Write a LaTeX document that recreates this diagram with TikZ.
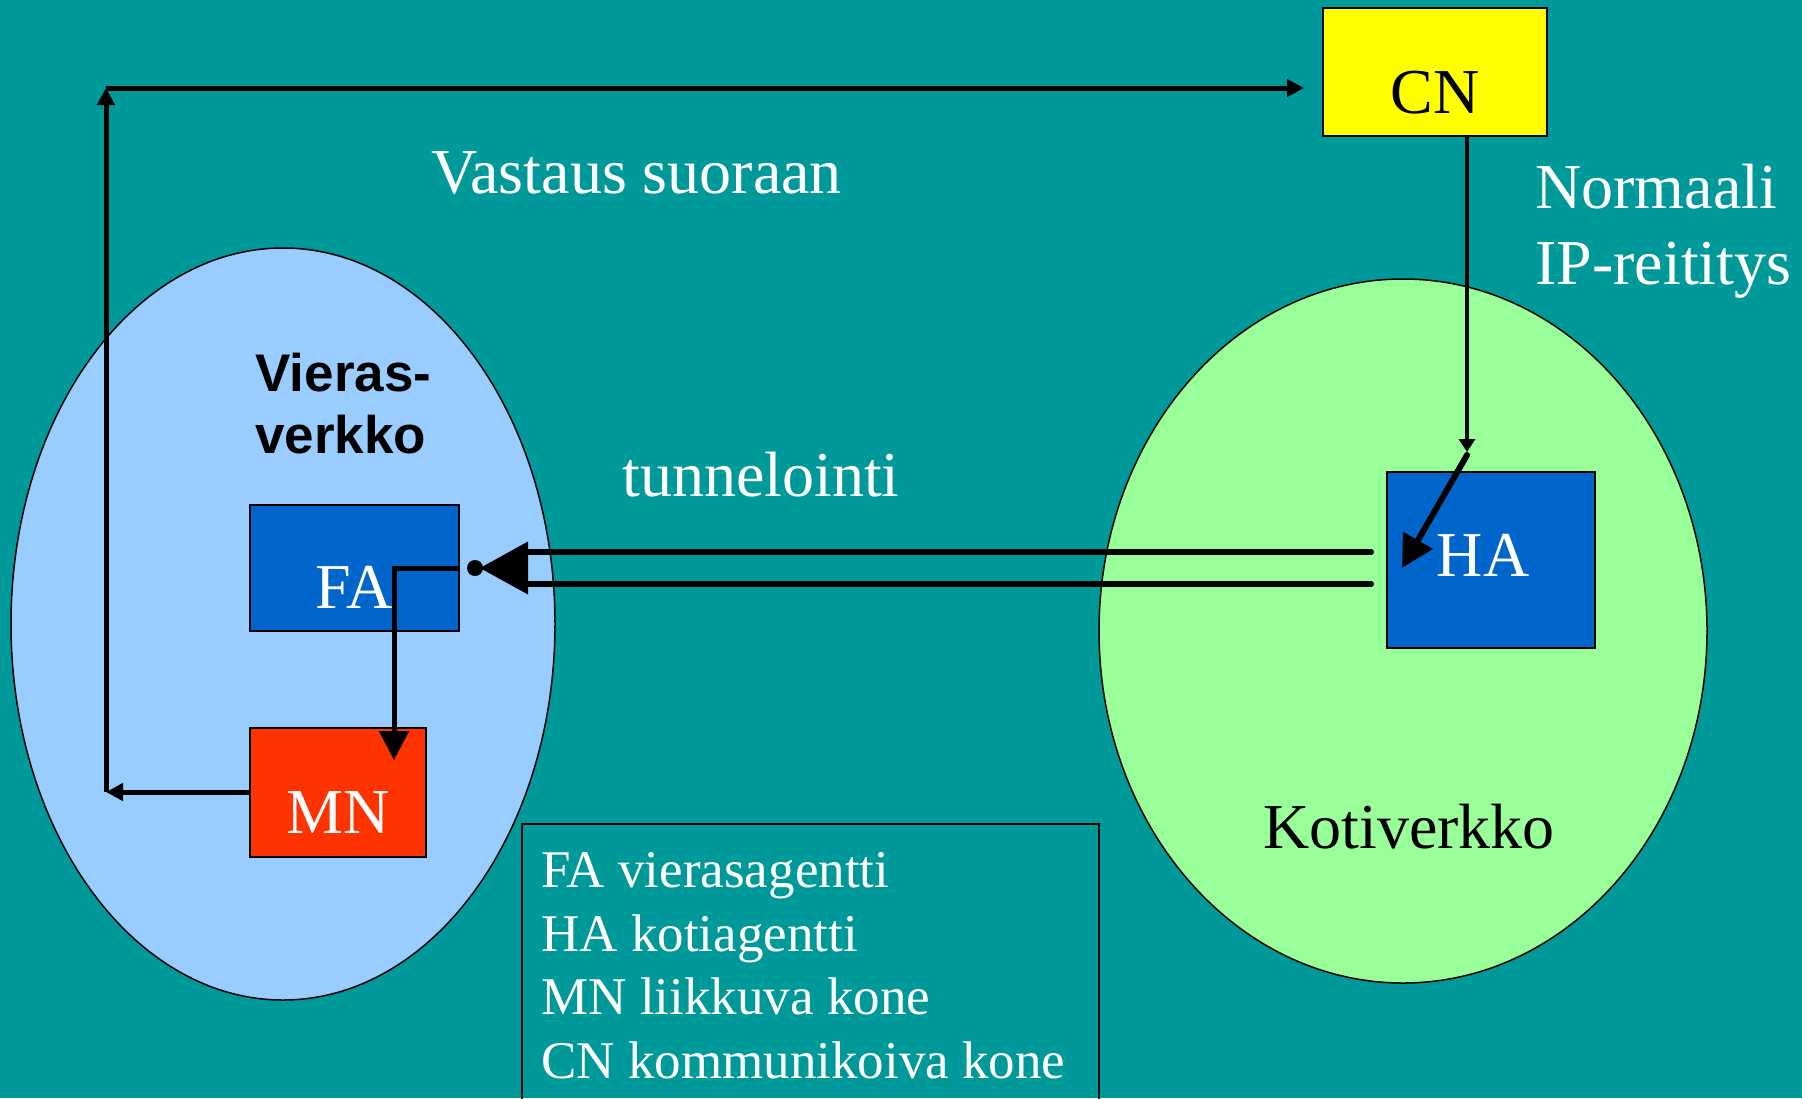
\documentclass[tikz,border=0pt]{standalone}
\usepackage{fontspec}
\setmainfont{Liberation Serif}
\newfontfamily\arialfont{Liberation Sans}
\usetikzlibrary{arrows.meta,shapes.geometric,calc}
\definecolor{bgteal}{RGB}{0,153,153}
\definecolor{foreignblue}{RGB}{153,204,255}
\definecolor{homegreen}{RGB}{153,255,153}
\definecolor{agentblue}{RGB}{0,102,204}
\definecolor{mnred}{RGB}{255,51,0}
\definecolor{cnyellow}{RGB}{255,255,0}
\newcommand\labfont{\fontsize{32pt}{38pt}\selectfont}
\newcommand\legfont{\fontsize{26.5pt}{32pt}\selectfont}
\newcommand\vierfont{\arialfont\bfseries\fontsize{26.5pt}{31pt}\selectfont}
\begin{document}
\begin{tikzpicture}[x=0.5pt,y=-0.5pt,
  net/.style={ellipse, draw=black, line width=0.75pt, inner sep=0},
  box/.style={rectangle, draw=black, line width=1pt, inner sep=0, font=\labfont, text depth=0pt},
  txt/.style={anchor=base west, inner sep=0, text=white, font=\labfont},
  leg/.style={anchor=base west, inner sep=0, text=white, font=\legfont},
  retarrow/.style={line width=2.5pt, -{Triangle[length=8.5pt,width=8.5pt]}},
  tunline/.style={line width=3pt, line cap=round},
]
\useasboundingbox (0,0) rectangle (1802,1098);
\fill[bgteal] (0,0) rectangle (1802,1098);

% networks
\node[net, fill=foreignblue, minimum width=272pt, minimum height=376pt] (vierasnet) at (283,624) {};
\node[net, fill=homegreen, minimum width=304pt, minimum height=352pt] (kotinet) at (1403,631) {};

% texts
\node[txt] (vastaus) at (431,193) {Vastaus suoraan};
\node[txt] (normaali) at (1535,208) {Normaali};
\node[txt] (ipreit) at (1535,284) {IP-reititys};
\node[txt] (tunnel) at (622,496) {tunnelointi};
\node[txt, text=black] (koti) at (1263,848) {Kotiverkko};
\node[anchor=base west, inner sep=0, font=\vierfont] (vieras1) at (255,391) {Vieras-};
\node[anchor=base west, inner sep=0, font=\vierfont] (vieras2) at (255,453) {verkko};

% boxes
\node[box, fill=cnyellow, text=black, minimum width=112pt, minimum height=64pt, text height=41pt] (cn) at (1435,72) {CN};
\node[box, fill=agentblue, text=white, minimum width=104.5pt, minimum height=63pt, text height=40pt] (fa) at (354.5,568) {FA};
\node[box, fill=agentblue, text=white, minimum width=104pt, minimum height=88pt, text height=16pt] (ha) at (1491,560) {HA\kern8pt};
\node[box, fill=mnred, text=white, minimum width=88pt, minimum height=64.5pt, text height=41pt] (mn) at (338,792) {MN};

% legend
\draw[line width=1pt] (522,1110) |- (1099,824) -- (1099,1110);
\node[leg] (legfa) at (541,887) {FA vierasagentti};
\node[leg] (legha) at (541,951) {HA kotiagentti};
\node[leg] (legmn) at (541,1014) {MN liikkuva kone};
\node[leg] (legcn) at (541,1078) {CN kommunikoiva kone};

% reply path MN -> CN
\coordinate (mnleft) at (106,792);
\coordinate (corner) at (106,88);
\draw[retarrow] (mn.west) -- (mnleft);
\draw[retarrow] (mnleft) -- (corner);
\draw[retarrow, shorten >=9pt] (corner) -- (corner -| cn.west);

% CN -> HA
\coordinate (bend) at (1467,455);
\coordinate (hatip) at (1402,568);
\draw[line width=2pt, shorten >=1.5pt, -{Triangle[length=6.5pt,width=8pt]}] (bend |- cn.south) -- (bend);
\draw[line width=3pt, line cap=round, -{Triangle[length=16pt,width=16.5pt]}] (bend) -- (hatip);

% tunnel HA -> FA
\coordinate (tunR) at ($(ha.west |- fa.east)+(-15,0)$);
\coordinate (tunL) at ($(fa.east)+(68,0)$);
\draw[tunline] ($(tunR)+(0,-16)$) -- ($(tunL)+(0,-16)$);
\draw[tunline] ($(tunR)+(0,16)$) -- ($(tunL)+(0,16)$);
\fill ($(tunL)+(0,-26.5)$) -- ($(tunL)+(0,26.5)$) -- ($(tunL)+(-48,0)$) -- cycle;
\fill ($(tunL)+(-53,0)$) circle[radius=4pt];

% FA -> MN
\coordinate (mnin) at (394,760);
\draw[line width=2.5pt, -{Triangle[length=14.5pt,width=14.5pt]}] (fa.east) -| (mnin);
\end{tikzpicture}
\end{document}
